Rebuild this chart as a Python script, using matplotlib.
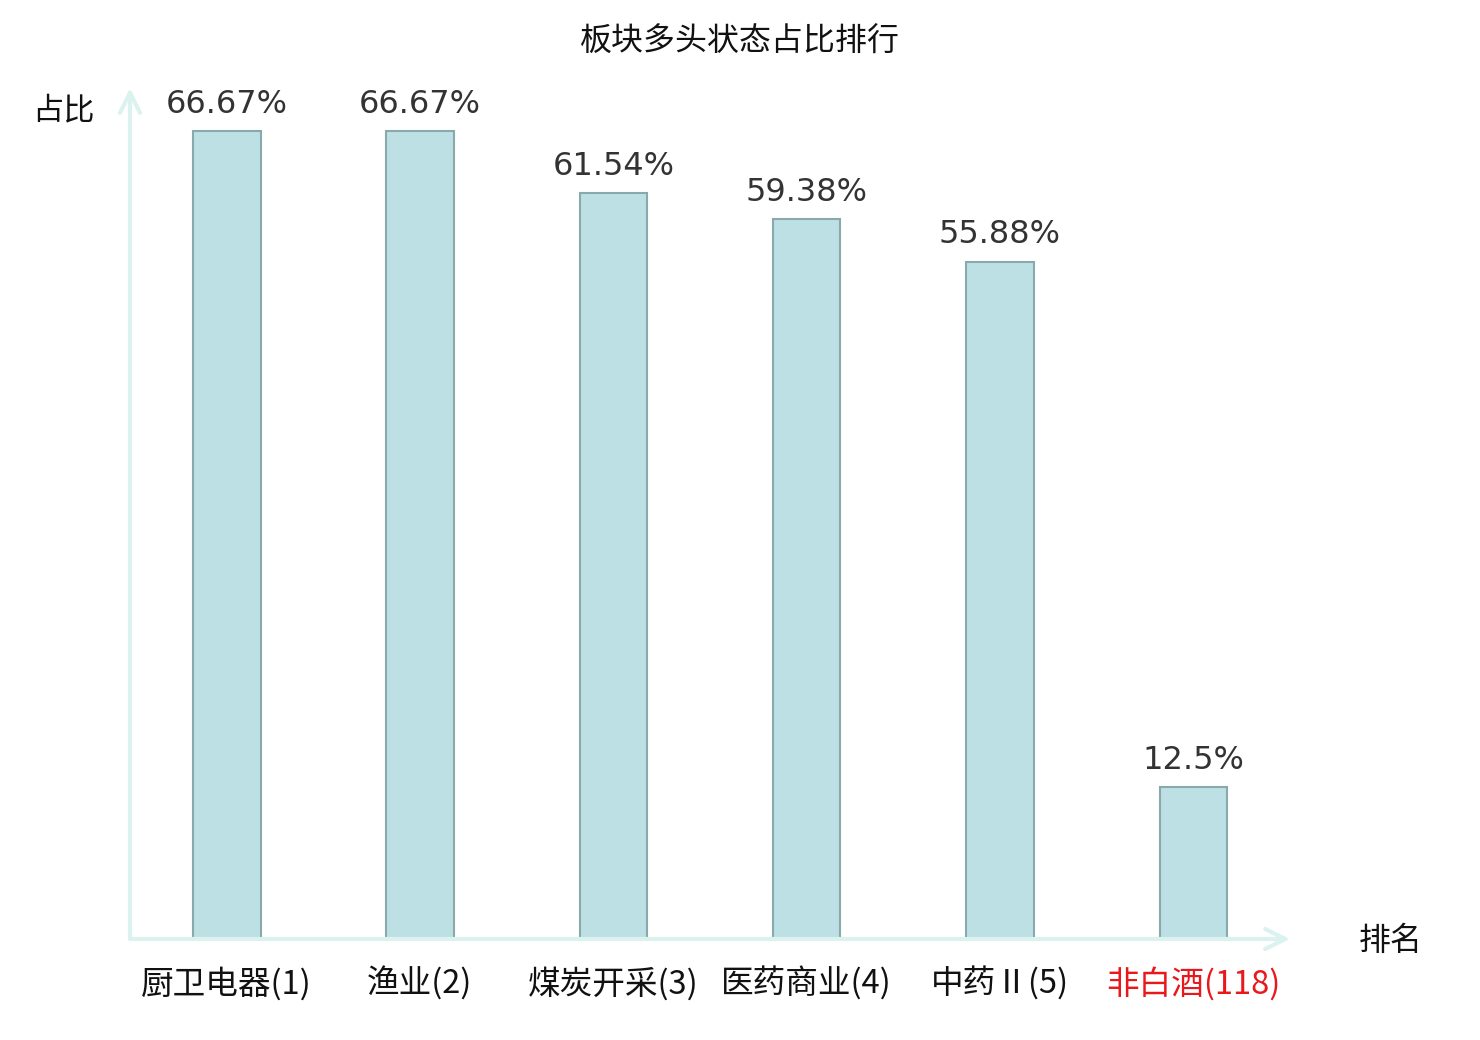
import numpy as np
import matplotlib
matplotlib.use("Agg")
import matplotlib.pyplot as plt

plt.rcParams['font.family'] = ['Noto Sans CJK SC', 'DejaVu Sans']

sectors = ['厨卫电器(1)', '渔业(2)', '煤炭开采(3)', '医药商业(4)', '中药Ⅱ(5)', '非白酒(118)']
ratios = [66.67, 66.67, 61.54, 59.38, 55.88, 12.5]
value_labels = ['66.67%', '66.67%', '61.54%', '59.38%', '55.88%', '12.5%']
label_colors = ['#111111', '#111111', '#111111', '#111111', '#111111', '#e8191d']

axis_color = '#dcf2ee'

fig = plt.figure(figsize=(14.8, 10.4), dpi=100)
ax = fig.add_axes([130 / 1480, 101 / 1040, 1160 / 1480, 851 / 1040])
ax.set_xlim(-0.5, 5.5)
ax.set_ylim(0, 70.2)
for s in ax.spines.values():
    s.set_visible(False)
ax.set_xticks([])
ax.set_yticks([])

x = np.arange(len(sectors))
ax.bar(x, ratios, width=0.35, color='#bce0e3', edgecolor='#89a9aa', linewidth=1.5, zorder=2)

for xi, v, lab in zip(x, ratios, value_labels):
    ax.annotate(lab, (xi, v), xytext=(0, 8), textcoords='offset points',
                ha='center', va='bottom', fontsize=23, color='#333333',
                family='DejaVu Sans')

for xi, name, c in zip(x, sectors, label_colors):
    ax.annotate(name, (xi, 0), xytext=(0, -32), textcoords='offset points',
                ha='center', va='center', fontsize=23.5, color=c)

# axes with arrow heads
arrow = dict(arrowstyle='->,head_length=1.45,head_width=0.72', color=axis_color, lw=3,
             shrinkA=0, shrinkB=0, mutation_scale=10)
ax.annotate('', xy=(5.5, 0), xytext=(-0.5, 0), arrowprops=arrow, annotation_clip=False)
ax.annotate('', xy=(-0.5, 70.2), xytext=(-0.5, 0), arrowprops=arrow, annotation_clip=False)

fig.text(63 / 1480, 1 - 110 / 1040, '占比', fontsize=22.5, ha='center', va='center', color='#111111')
fig.text(1391 / 1480, 1 - 941 / 1040, '排名', fontsize=23, ha='center', va='center', color='#111111')
fig.text(740 / 1480, 1 - 42 / 1040, '板块多头状态占比排行', fontsize=23, ha='center', va='center', color='#111111')

fig.savefig('out.png', dpi=100)
